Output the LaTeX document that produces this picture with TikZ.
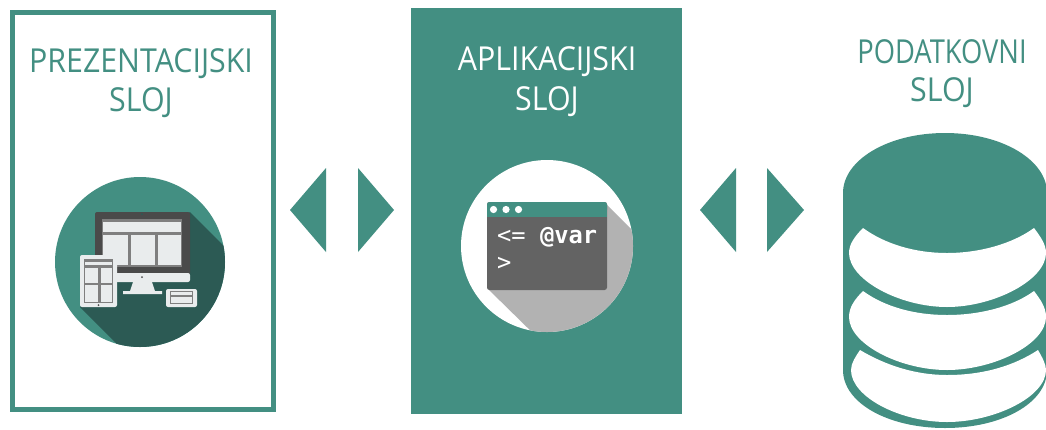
\documentclass[tikz,border=0pt]{standalone}
\usepackage{fontspec}
\setmainfont{Open Sans}
\newfontfamily\codefont{DejaVu Sans Mono}
\definecolor{teal1}{HTML}{438F82}
\definecolor{teal2}{HTML}{2C5A54}
\definecolor{scr}{HTML}{636363}
\definecolor{dk}{HTML}{4A4A4A}
\definecolor{md}{HTML}{7F7F7F}
\definecolor{lt}{HTML}{E9ECED}
\tikzset{
  x=1pt,y=-1pt,
  heading/.style={text=#1,font=\fontsize{33}{38}\selectfont,xscale=.92,transform shape,align=center,inner sep=0pt},
  headingn/.style={heading=#1,xscale=.90},
  codetext/.style={text=white,font=\codefont\fontsize{23.7}{26}\selectfont,inner sep=0pt,anchor=base west},
}
\begin{document}
\begin{tikzpicture}
\useasboundingbox (0,0) rectangle (1046,429);
\fill[white] (0,0) rectangle (1046,429);
% panels
\draw[draw=teal1,line width=5pt] (12.5,12.5) rectangle (273.5,409.5);
\fill[teal1] (411,8) rectangle (682,414);
% headings
\node[heading=teal1] (h1) at (141,64) {PREZENTACIJSKI};
\node[heading=teal1] (h1b) at (141,103) {SLOJ};
\node[heading=white] (h2) at (547,62) {APLIKACIJSKI};
\node[heading=white] (h2b) at (547,102) {SLOJ};
\node[headingn=teal1] (h3) at (942,52) {PODATKOVNI};
\node[heading=teal1] (h3b) at (942,93) {SLOJ};
% arrows
\foreach \a/\b/\c in {326/290/1,358/394/2,736/700/3,767/804/4}
  \fill[teal1] (\a,168) -- (\b,210) -- (\a,252) -- cycle;
% icon 1
\fill[teal1] (140,262) circle[radius=85];
\begin{scope}
\clip (140,262) circle[radius=85];
\fill[teal2] (190,212) -- (300,322) -- (200,420) -- (117,344) -- (80,307) -- cycle;
\end{scope}
\fill[dk,rounded corners=2pt] (95,212) rectangle (190,275);
\fill[md] (102,219) rectangle (182,267);
\fill[lt] (103,222) rectangle (181,232);
\fill[lt] (103,235) rectangle (128,265);
\fill[lt] (131,235) rectangle (155,265);
\fill[lt] (158,235) rectangle (181,265);
\fill[teal2] (142,214) circle[radius=1];
\fill[lt,rounded corners=2pt] (95,273) rectangle (190,282);
\fill[lt] (133,282) -- (152,282) -- (155,291) -- (162,291) -- (162,294) -- (123,294) -- (123,291) -- (130,291) -- cycle;
\fill[dk] (142,277) circle[radius=1];
\fill[lt,rounded corners=2pt] (80,255) rectangle (117,307);
\fill[md] (84,259) rectangle (113,303);
\fill[lt] (85,262) rectangle (112,265);
\fill[lt] (85,268) rectangle (98,283);
\fill[lt] (101,268) rectangle (112,283);
\fill[lt] (85,285) rectangle (98,302);
\fill[lt] (101,285) rectangle (112,302);
\fill[dk] (98.5,305) circle[radius=1];
\fill[lt,rounded corners=2pt] (166,289) rectangle (197,307);
\fill[md] (170,291) rectangle (193,304);
\fill[lt] (171,292) rectangle (192,295);
\fill[lt] (171,297) rectangle (192,303);
% icon 2
\fill[white] (547,246) circle[radius=86];
\begin{scope}
\clip (547,246) circle[radius=86];
\fill[black!30] (607,205) -- (700,298) -- (600,400) -- (540,340) -- (487,288) -- cycle;
\end{scope}
\fill[scr,rounded corners=2.5pt] (487,202) rectangle (607,290);
\fill[teal1,rounded corners=2.5pt] (487,202) rectangle (607,212);
\fill[teal1] (487,208) rectangle (607,217);
\foreach \p in {493.5,506,518.5} \fill[white] (\p,209.5) circle[radius=3.6];
\node[codetext] (code1) at (497,243.5) {<= \textbf{@var}};
\node[codetext] (code2) at (497,270) {>};
% database
\fill[teal1] (843,193) .. controls (843,160) and (888,133) .. (945,133) .. controls (1002,133) and (1047,160) .. (1047,193)
  -- (1047,370) .. controls (1047,403) and (1002,428) .. (945,428) .. controls (888,428) and (843,403) .. (843,370) -- cycle;
\foreach \t/\m/\b/\ct in {228/253/307/253,291/317/370/315}
  \fill[white] (863,\t) .. controls (885,{\t+16}) and (915,\ct) .. (947,\ct) .. controls (979,\ct) and (1012,{\t+16}) .. (1034,\t)
    .. controls (1040,{\t+8}) and (1046,{\t+16}) .. (1046,\m) .. controls (1046,{\m+27}) and (994,\b) .. (947,\b)
    .. controls (900,\b) and (849,{\m+27}) .. (849,\m) .. controls (849,{\t+16}) and (855,{\t+8}) .. (863,\t) -- cycle;
\fill[white] (860,350) .. controls (885,365) and (915,375) .. (947,375) .. controls (985,375) and (1015,365) .. (1038,350)
  .. controls (1042,357) and (1046,364) .. (1046,370) .. controls (1046,397) and (994,422) .. (947,422)
  .. controls (900,422) and (851,397) .. (851,370) .. controls (851,363) and (856,356) .. (860,350) -- cycle;
\end{tikzpicture}
\end{document}
